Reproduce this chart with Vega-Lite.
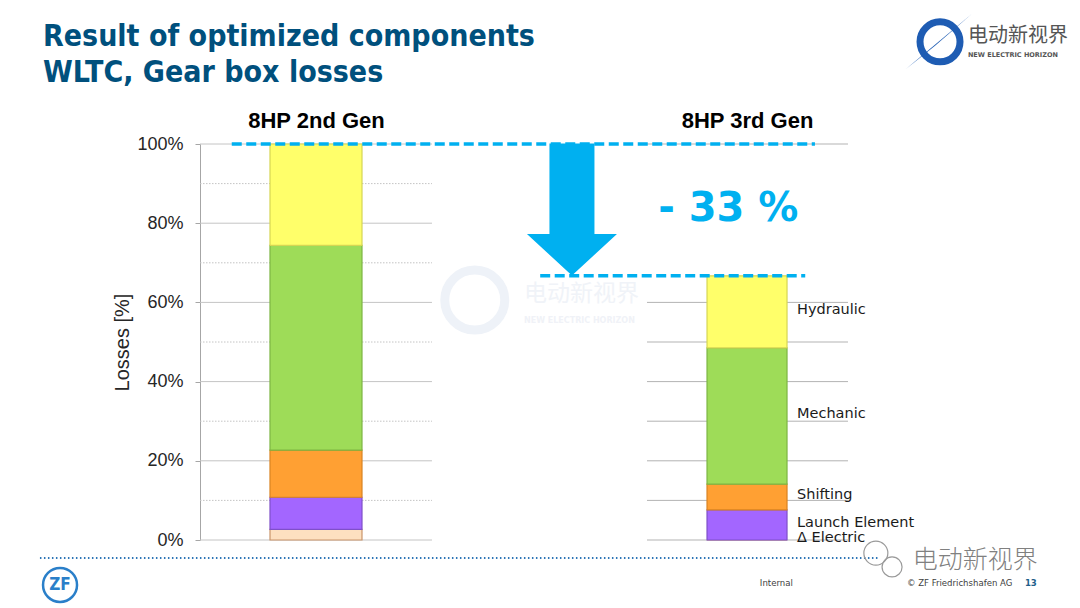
{
  "$schema": "https://vega.github.io/schema/vega-lite/v6.json",
  "width": 648,
  "height": 396,
  "autosize": "none",
  "padding": {"left": 200, "top": 144, "right": 232, "bottom": 68},
  "background": "white",
  "config": {"view": {"stroke": null}, "font": "Liberation Sans"},
  "data": {"values": [{}]},
  "datasets": {
    "losses": [
      {"gen": "8HP 2nd Gen", "component": "Δ Electric", "share": 0.027},
      {"gen": "8HP 2nd Gen", "component": "Launch Element", "share": 0.081},
      {"gen": "8HP 2nd Gen", "component": "Shifting", "share": 0.119},
      {"gen": "8HP 2nd Gen", "component": "Mechanic", "share": 0.517},
      {"gen": "8HP 2nd Gen", "component": "Hydraulic", "share": 0.256},
      {"gen": "8HP 3rd Gen", "component": "Δ Electric", "share": 0.0},
      {"gen": "8HP 3rd Gen", "component": "Launch Element", "share": 0.076},
      {"gen": "8HP 3rd Gen", "component": "Shifting", "share": 0.065},
      {"gen": "8HP 3rd Gen", "component": "Mechanic", "share": 0.344},
      {"gen": "8HP 3rd Gen", "component": "Hydraulic", "share": 0.182}
    ],
    "grid": [
      {"chart": "2nd", "level": 0}, {"chart": "2nd", "level": 0.1},
      {"chart": "2nd", "level": 0.2}, {"chart": "2nd", "level": 0.3},
      {"chart": "2nd", "level": 0.4}, {"chart": "2nd", "level": 0.5},
      {"chart": "2nd", "level": 0.6}, {"chart": "2nd", "level": 0.7},
      {"chart": "2nd", "level": 0.8}, {"chart": "2nd", "level": 0.9},
      {"chart": "2nd", "level": 1.0},
      {"chart": "3rd", "level": 0}, {"chart": "3rd", "level": 0.1},
      {"chart": "3rd", "level": 0.2}, {"chart": "3rd", "level": 0.3},
      {"chart": "3rd", "level": 0.4}, {"chart": "3rd", "level": 0.5},
      {"chart": "3rd", "level": 0.6}, {"chart": "3rd", "level": 1.0}
    ]
  },
  "resolve": {"scale": {"x": "independent", "y": "independent"}},
  "layer": [
    {
      "mark": {"type": "text", "text": "Result of optimized components", "font": "DejaVu Sans Condensed", "fontSize": 30, "fontWeight": "bold", "align": "left", "baseline": "alphabetic", "color": "#00507d"},
      "encoding": {
        "x": {"datum": -0.2423, "type": "quantitative", "scale": {"domain": [0, 1]}, "axis": null},
        "y": {"datum": 1.2475, "type": "quantitative", "scale": {"domain": [0, 1]}, "axis": null}
      }
    },
    {
      "mark": {"type": "text", "text": "WLTC, Gear box losses", "font": "DejaVu Sans Condensed", "fontSize": 30, "fontWeight": "bold", "align": "left", "baseline": "alphabetic", "color": "#00507d"},
      "encoding": {
        "x": {"datum": -0.2423, "type": "quantitative", "scale": {"domain": [0, 1]}, "axis": null},
        "y": {"datum": 1.1566, "type": "quantitative", "scale": {"domain": [0, 1]}, "axis": null}
      }
    },
    {
      "mark": {"type": "text", "text": "电动新视界", "font": "Noto Sans CJK SC", "fontSize": 23, "align": "left", "baseline": "alphabetic", "color": "#f0f3f8"},
      "encoding": {
        "x": {"datum": 0.5, "type": "quantitative", "scale": {"domain": [0, 1]}, "axis": null},
        "y": {"datum": 0.6035, "type": "quantitative", "scale": {"domain": [0, 1]}, "axis": null}
      }
    },
    {
      "mark": {"type": "text", "text": "NEW ELECTRIC HORIZON", "font": "DejaVu Sans", "fontWeight": "bold", "fontSize": 8, "align": "left", "baseline": "alphabetic", "color": "#f0f2f7"},
      "encoding": {
        "x": {"datum": 0.5, "type": "quantitative", "scale": {"domain": [0, 1]}, "axis": null},
        "y": {"datum": 0.548, "type": "quantitative", "scale": {"domain": [0, 1]}, "axis": null}
      }
    },
    {
      "mark": {"type": "point", "shape": "circle", "filled": false, "size": 3600, "strokeWidth": 9, "color": "#eef2f8", "opacity": 1},
      "encoding": {
        "x": {"datum": 0.424, "type": "quantitative", "scale": {"domain": [0, 1]}, "axis": null},
        "y": {"datum": 0.606, "type": "quantitative", "scale": {"domain": [0, 1]}, "axis": null}
      }
    },
    {
      "data": {"name": "grid"},
      "transform": [{"filter": "datum.chart == '2nd'"}],
      "mark": {"type": "rule", "color": "#c4c4c4", "strokeWidth": 1},
      "encoding": {
        "y": {"field": "level", "type": "quantitative", "scale": {"domain": [0, 1]}, "axis": null},
        "x": {"datum": 0, "type": "quantitative", "scale": {"domain": [0, 1]}, "axis": null},
        "x2": {"datum": 0.358},
        "strokeDash": {"condition": {"test": "round(datum.level * 10) % 2 == 1", "value": [1.5, 1.5]}, "value": [1, 0]}
      }
    },
    {
      "data": {"name": "grid"},
      "transform": [{"filter": "datum.chart == '3rd'"}],
      "mark": {"type": "rule", "color": "#b3b3b3", "strokeWidth": 1},
      "encoding": {
        "y": {"field": "level", "type": "quantitative", "scale": {"domain": [0, 1]}, "axis": null},
        "x": {"datum": 0.6898, "type": "quantitative", "scale": {"domain": [0, 1]}, "axis": null},
        "x2": {"datum": 1.0}
      }
    },
    {
      "data": {"name": "losses"},
      "transform": [
        {"calculate": "indexof(['Δ Electric', 'Launch Element', 'Shifting', 'Mechanic', 'Hydraulic'], datum.component)", "as": "rank"}
      ],
      "encoding": {
        "x": {
          "field": "gen",
          "type": "nominal",
          "scale": {"type": "point", "domain": ["8HP 2nd Gen", "8HP 3rd Gen"], "padding": 0.2517, "align": 0.5346},
          "axis": {
            "orient": "top", "title": null, "domain": false, "ticks": false, "tickSize": 0,
            "labelPadding": 17, "labelBaseline": "alphabetic", "labelAngle": 0,
            "labelFont": "Liberation Sans", "labelFontSize": 22, "labelFontWeight": "bold", "labelColor": "#000000"
          }
        }
      },
      "layer": [
        {
          "mark": {"type": "bar", "strokeWidth": 1.2},
          "encoding": {
            "y": {
              "field": "share",
              "type": "quantitative",
              "stack": "zero",
              "title": "Losses [%]",
              "scale": {"domain": [0, 1], "nice": false},
              "axis": {
                "values": [0, 0.2, 0.4, 0.6, 0.8, 1],
                "format": ".0%",
                "grid": false,
                "domainColor": "#a6a6a6",
                "tickColor": "#a6a6a6",
                "tickSize": 5,
                "labelPadding": 12,
                "labelFont": "Liberation Sans",
                "labelFontSize": 18,
                "labelColor": "#262626",
                "titleFont": "Liberation Sans",
                "titleFontSize": 20,
                "titleFontWeight": "normal",
                "titleColor": "#262626",
                "titlePadding": 4
              }
            },
            "color": {
              "field": "component",
              "type": "nominal",
              "scale": {
                "domain": ["Δ Electric", "Launch Element", "Shifting", "Mechanic", "Hydraulic"],
                "range": ["#fde0c0", "#a366ff", "#ffa033", "#9edc58", "#ffff6a"]
              },
              "legend": null
            },
            "stroke": {
              "field": "component",
              "type": "nominal",
              "scale": {
                "domain": ["Δ Electric", "Launch Element", "Shifting", "Mechanic", "Hydraulic"],
                "range": ["#c9946a", "#7f4fc9", "#d98322", "#7cb543", "#d6d653"]
              },
              "legend": null
            },
            "order": {"field": "rank", "type": "quantitative"},
            "size": {"condition": {"test": "datum.gen == '8HP 2nd Gen'", "value": 92}, "value": 80}
          }
        },
        {
          "transform": [
            {"stack": "share", "groupby": ["gen"], "sort": [{"field": "rank"}], "as": ["y0", "y1"]},
            {"calculate": "(datum.y0 + datum.y1) / 2", "as": "mid"},
            {"filter": "datum.gen == '8HP 3rd Gen'"}
          ],
          "mark": {"type": "text", "align": "left", "baseline": "middle", "dx": 50, "dy": -2, "font": "DejaVu Sans", "fontSize": 14.5, "color": "#1a1a1a"},
          "encoding": {
            "y": {"field": "mid", "type": "quantitative", "title": "Losses [%]", "scale": {"domain": [0, 1], "nice": false}},
            "text": {"field": "component"}
          }
        }
      ]
    },
    {
      "mark": {"type": "rule", "color": "#00b0f0", "strokeWidth": 3.5, "strokeDash": [10, 4.5]},
      "encoding": {
        "y": {"datum": 1, "type": "quantitative", "scale": {"domain": [0, 1]}, "axis": null},
        "x": {"datum": 0.049, "type": "quantitative", "scale": {"domain": [0, 1]}, "axis": null},
        "x2": {"datum": 0.949}
      }
    },
    {
      "mark": {"type": "rule", "color": "#00b0f0", "strokeWidth": 3.5, "strokeDash": [10, 4.5]},
      "encoding": {
        "y": {"datum": 0.667, "type": "quantitative", "scale": {"domain": [0, 1]}, "axis": null},
        "x": {"datum": 0.525, "type": "quantitative", "scale": {"domain": [0, 1]}, "axis": null},
        "x2": {"datum": 0.934}
      }
    },
    {
      "mark": {
        "type": "point",
        "filled": true,
        "opacity": 1,
        "color": "#00b0f0",
        "size": 17424,
        "shape": "M-0.341,-1L0.341,-1L0.341,0.371L0.682,0.371L0,1L-0.682,0.371L-0.341,0.371Z"
      },
      "encoding": {
        "x": {"datum": 0.574, "type": "quantitative", "scale": {"domain": [0, 1]}, "axis": null},
        "y": {"datum": 0.8346, "type": "quantitative", "scale": {"domain": [0, 1]}, "axis": null}
      }
    },
    {
      "mark": {"type": "text", "text": "- 33 %", "font": "DejaVu Sans", "fontWeight": "bold", "fontSize": 40, "align": "left", "baseline": "alphabetic", "color": "#00b0f0"},
      "encoding": {
        "x": {"datum": 0.707, "type": "quantitative", "scale": {"domain": [0, 1]}, "axis": null},
        "y": {"datum": 0.806, "type": "quantitative", "scale": {"domain": [0, 1]}, "axis": null}
      }
    },
    {
      "mark": {"type": "rule", "color": "#2e75b6", "strokeWidth": 2, "strokeDash": [1.5, 2.5]},
      "encoding": {
        "y": {"datum": -0.0455, "type": "quantitative", "scale": {"domain": [0, 1]}, "axis": null},
        "x": {"datum": -0.247, "type": "quantitative", "scale": {"domain": [0, 1]}, "axis": null},
        "x2": {"datum": 1.049}
      }
    },
    {
      "mark": {"type": "point", "shape": "circle", "filled": false, "size": 1156, "strokeWidth": 2.5, "color": "#2a7fc9", "opacity": 1},
      "encoding": {
        "x": {"datum": -0.216, "type": "quantitative", "scale": {"domain": [0, 1]}, "axis": null},
        "y": {"datum": -0.1136, "type": "quantitative", "scale": {"domain": [0, 1]}, "axis": null}
      }
    },
    {
      "mark": {"type": "text", "text": "ZF", "font": "DejaVu Sans Condensed", "fontWeight": "bold", "fontSize": 17, "align": "center", "baseline": "middle", "color": "#2a7fc9"},
      "encoding": {
        "x": {"datum": -0.216, "type": "quantitative", "scale": {"domain": [0, 1]}, "axis": null},
        "y": {"datum": -0.1136, "type": "quantitative", "scale": {"domain": [0, 1]}, "axis": null}
      }
    },
    {
      "mark": {"type": "text", "text": "Internal", "font": "DejaVu Sans Condensed", "fontSize": 9.5, "align": "left", "baseline": "alphabetic", "color": "#404040"},
      "encoding": {
        "x": {"datum": 0.864, "type": "quantitative", "scale": {"domain": [0, 1]}, "axis": null},
        "y": {"datum": -0.116, "type": "quantitative", "scale": {"domain": [0, 1]}, "axis": null}
      }
    },
    {
      "mark": {"type": "text", "text": "© ZF Friedrichshafen AG", "font": "DejaVu Sans Condensed", "fontSize": 9.5, "align": "left", "baseline": "alphabetic", "color": "#404040"},
      "encoding": {
        "x": {"datum": 1.091, "type": "quantitative", "scale": {"domain": [0, 1]}, "axis": null},
        "y": {"datum": -0.116, "type": "quantitative", "scale": {"domain": [0, 1]}, "axis": null}
      }
    },
    {
      "mark": {"type": "text", "text": "13", "font": "DejaVu Sans Condensed", "fontWeight": "bold", "fontSize": 9.5, "align": "left", "baseline": "alphabetic", "color": "#1f5f8b"},
      "encoding": {
        "x": {"datum": 1.273, "type": "quantitative", "scale": {"domain": [0, 1]}, "axis": null},
        "y": {"datum": -0.116, "type": "quantitative", "scale": {"domain": [0, 1]}, "axis": null}
      }
    },
    {
      "mark": {"type": "point", "shape": "circle", "filled": false, "size": 576, "strokeWidth": 1.2, "color": "#9a9a9a", "opacity": 1},
      "encoding": {
        "x": {"datum": 1.043, "type": "quantitative", "scale": {"domain": [0, 1]}, "axis": null},
        "y": {"datum": -0.033, "type": "quantitative", "scale": {"domain": [0, 1]}, "axis": null}
      }
    },
    {
      "mark": {"type": "point", "shape": "circle", "filled": false, "size": 400, "strokeWidth": 1.2, "color": "#9a9a9a", "opacity": 1},
      "encoding": {
        "x": {"datum": 1.068, "type": "quantitative", "scale": {"domain": [0, 1]}, "axis": null},
        "y": {"datum": -0.068, "type": "quantitative", "scale": {"domain": [0, 1]}, "axis": null}
      }
    },
    {
      "mark": {"type": "text", "text": "电动新视界", "font": "Noto Sans CJK SC", "fontWeight": 300, "fontSize": 25, "align": "left", "baseline": "alphabetic", "color": "#808080"},
      "encoding": {
        "x": {"datum": 1.1, "type": "quantitative", "scale": {"domain": [0, 1]}, "axis": null},
        "y": {"datum": -0.0707, "type": "quantitative", "scale": {"domain": [0, 1]}, "axis": null}
      }
    },
    {
      "mark": {"type": "point", "shape": "circle", "filled": false, "size": 1600, "strokeWidth": 7, "color": "#1e5cb3", "opacity": 1},
      "encoding": {
        "x": {"datum": 1.142, "type": "quantitative", "scale": {"domain": [0, 1]}, "axis": null},
        "y": {"datum": 1.258, "type": "quantitative", "scale": {"domain": [0, 1]}, "axis": null}
      }
    },
    {
      "mark": {"type": "point", "shape": "M-1,0.8L0.914,-0.8L-0.15,0.12Z", "filled": true, "size": 4900, "color": "#1e5cb3", "opacity": 1},
      "encoding": {
        "x": {"datum": 1.142, "type": "quantitative", "scale": {"domain": [0, 1]}, "axis": null},
        "y": {"datum": 1.258, "type": "quantitative", "scale": {"domain": [0, 1]}, "axis": null}
      }
    },
    {
      "mark": {"type": "text", "text": "电动新视界", "font": "Noto Sans CJK SC", "fontSize": 20, "align": "left", "baseline": "alphabetic", "color": "#555555"},
      "encoding": {
        "x": {"datum": 1.185, "type": "quantitative", "scale": {"domain": [0, 1]}, "axis": null},
        "y": {"datum": 1.2576, "type": "quantitative", "scale": {"domain": [0, 1]}, "axis": null}
      }
    },
    {
      "mark": {"type": "text", "text": "NEW ELECTRIC HORIZON", "font": "DejaVu Sans", "fontWeight": "bold", "fontSize": 6.5, "align": "left", "baseline": "alphabetic", "color": "#555555"},
      "encoding": {
        "x": {"datum": 1.185, "type": "quantitative", "scale": {"domain": [0, 1]}, "axis": null},
        "y": {"datum": 1.2197, "type": "quantitative", "scale": {"domain": [0, 1]}, "axis": null}
      }
    }
  ]
}
